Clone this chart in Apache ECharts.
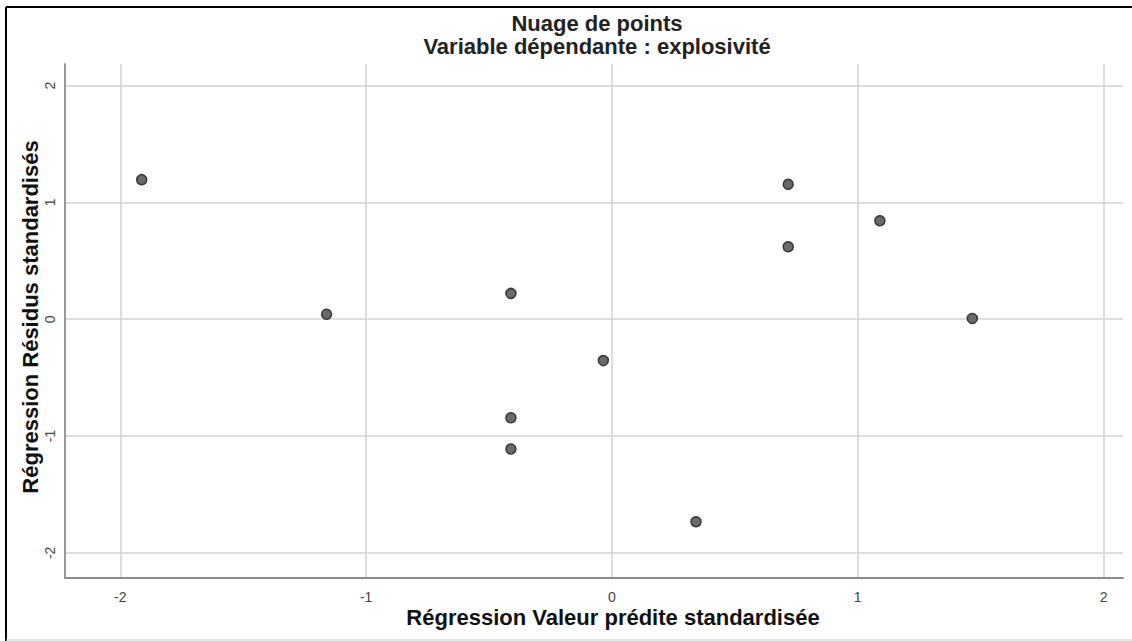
<!DOCTYPE html>
<html><head><meta charset="utf-8">
<script src="https://cdn.jsdelivr.net/npm/echarts@6/dist/echarts.min.js"></script>
<style>html,body{margin:0;padding:0;background:#fff}#c{width:1132px;height:641px}</style>
</head><body><div id="c"></div>
<script>
const titleLines = ['Nuage de points', 'Variable dépendante : explosivité'];
const xAxisName = 'Régression Valeur prédite standardisée';
const yAxisName = 'Régression Résidus standardisés';
const xTicks = [-2, -1, 0, 1, 2];
const yTicks = [-2, -1, 0, 1, 2];
const predicted = [-1.913, -1.161, -0.411, -0.411, -0.411, -0.035, 0.342, 0.717, 0.717, 1.090, 1.466];
const residuals = [1.195, 0.043, 0.221, -0.843, -1.111, -0.354, -1.733, 1.155, 0.621, 0.843, 0.006];

const points = predicted.map((x, i) => [x, residuals[i]]);
const FONT = '"Liberation Sans", Arial, sans-serif';

const chart = echarts.init(document.getElementById('c'), null, {renderer: 'svg'});
chart.setOption({
  animation: false,
  backgroundColor: '#fff',
  grid: {left: 65, right: 9, top: 64, bottom: 63, containLabel: false},
  xAxis: {
    type: 'value', min: -2.225, max: 2.079,
    axisLine: {show: true, onZero: false, lineStyle: {color: '#8c8c8c', width: 2}},
    axisTick: {show: false, customValues: xTicks},
    axisLabel: {customValues: xTicks, color: '#444', fontSize: 14, fontFamily: FONT, margin: 12},
    splitLine: {show: true, lineStyle: {color: '#d2d2d2', width: 1.5}}
  },
  yAxis: {
    type: 'value', min: -2.215, max: 2.185,
    axisLine: {show: true, onZero: false, lineStyle: {color: '#9a9a9a', width: 2}},
    axisTick: {show: false, customValues: yTicks},
    axisLabel: {customValues: yTicks, color: '#444', fontSize: 14, fontFamily: FONT, rotate: 90, margin: 8},
    splitLine: {show: true, lineStyle: {color: '#d2d2d2', width: 1.5}}
  },
  series: [{
    type: 'scatter',
    data: points,
    symbolSize: 10,
    itemStyle: {color: '#6a6a6a', borderColor: '#383838', borderWidth: 1.5, opacity: 1},
    emphasis: {disabled: true}
  }],
  graphic: [
    {type: 'line', shape: {x1: 6, y1: 7, x2: 6, y2: 641}, style: {stroke: '#000', lineWidth: 2}},
    {type: 'line', shape: {x1: 6, y1: 7, x2: 1132, y2: 7}, style: {stroke: '#000', lineWidth: 2}},
    {type: 'line', shape: {x1: 6, y1: 640, x2: 1132, y2: 640}, style: {stroke: '#cfcfcf', lineWidth: 1}},
    {type: 'text', x: 597, y: 23, style: {text: titleLines[0], fill: '#222', font: 'bold 22px ' + FONT, textAlign: 'center', textVerticalAlign: 'middle'}},
    {type: 'text', x: 597, y: 46, style: {text: titleLines[1], fill: '#222', font: 'bold 22px ' + FONT, textAlign: 'center', textVerticalAlign: 'middle'}},
    {type: 'text', x: 613, y: 617, style: {text: xAxisName, fill: '#111', font: 'bold 22px ' + FONT, textAlign: 'center', textVerticalAlign: 'middle'}},
    {type: 'text', x: 30, y: 317, rotation: Math.PI / 2, style: {text: yAxisName, fill: '#111', font: 'bold 22px ' + FONT, textAlign: 'center', textVerticalAlign: 'middle'}}
  ]
});
</script>
</body></html>
